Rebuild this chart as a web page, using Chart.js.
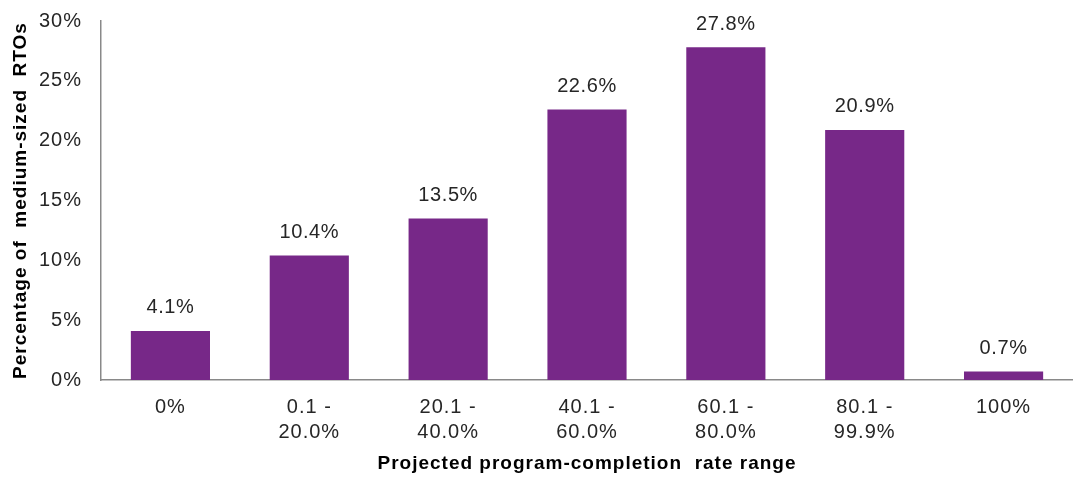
<!DOCTYPE html>
<html>
<head>
<meta charset="utf-8">
<script src="https://cdn.jsdelivr.net/npm/chart.js@4.4.1/dist/chart.umd.min.js"></script>
<style>
html,body{margin:0;padding:0;background:#fff;}
#wrap{width:1073px;height:477px;position:relative;}
</style>
</head>
<body>
<div id="wrap"><canvas id="c"></canvas></div>
<script>
const categories = [["0%"], ["0.1 -", "20.0%"], ["20.1 -", "40.0%"], ["40.1 -", "60.0%"], ["60.1 -", "80.0%"], ["80.1 -", "99.9%"], ["100%"]];
const values = [4.1, 10.4, 13.5, 22.6, 27.8, 20.9, 0.7];
const yTicks = [0, 5, 10, 15, 20, 25, 30];

const FONT = "'Liberation Sans', Arial, sans-serif";
const barColor = '#772888';
const SPACING = '1px';

const spacingPlugin = {
  id: 'spacing',
  beforeInit(chart) { chart.ctx.letterSpacing = SPACING; },
  beforeLayout(chart) { chart.ctx.letterSpacing = SPACING; },
  beforeDraw(chart) { chart.ctx.letterSpacing = SPACING; }
};

const labelPlugin = {
  id: 'barLabels',
  afterDatasetsDraw(chart) {
    const ctx = chart.ctx;
    const meta = chart.getDatasetMeta(0);
    ctx.save();
    ctx.letterSpacing = '0.6px';
    ctx.font = '20px ' + FONT;
    ctx.fillStyle = '#262626';
    ctx.textAlign = 'center';
    ctx.textBaseline = 'middle';
    meta.data.forEach((bar, i) => {
      ctx.fillText(values[i].toFixed(1) + '%', bar.x, bar.y - 23);
    });
    ctx.restore();
  }
};

new Chart(document.getElementById('c'), {
  type: 'bar',
  data: {
    labels: categories,
    datasets: [{
      data: values,
      backgroundColor: barColor,
      borderWidth: 0,
      categoryPercentage: 1.0,
      barPercentage: 0.57
    }]
  },
  options: {
    responsive: true,
    maintainAspectRatio: false,
    animation: false,
    devicePixelRatio: 1,
    layout: { padding: { top: 21, right: 0, bottom: 0, left: 0 } },
    plugins: { legend: { display: false }, tooltip: { enabled: false } },
    scales: {
      x: {
        grid: { display: false, drawTicks: false },
        border: { display: true, color: '#898989', width: 1.5 },
        ticks: { color: '#262626', font: { family: FONT, size: 20, lineHeight: 1.25 }, padding: 15, maxRotation: 0, autoSkip: false },
        title: { display: true, text: 'Projected program-completion  rate range', color: '#000', font: { family: FONT, size: 19, weight: 'bold' }, padding: { top: 8, bottom: 2 } },
        afterFit(s) { s.height = 97; s.paddingLeft = 0; s.paddingRight = 0; }
      },
      y: {
        min: 0, max: 30,
        afterBuildTicks(s) { s.ticks = yTicks.map(v => ({ value: v })); },
        grid: { display: false, drawTicks: false },
        border: { display: true, color: '#898989', width: 1.5 },
        ticks: { color: '#262626', font: { family: FONT, size: 20 }, padding: 19, callback: v => v + '%' },
        title: { display: true, text: 'Percentage of  medium-sized  RTOs', color: '#000', font: { family: FONT, size: 19, weight: 'bold' }, padding: { top: 9, bottom: 4 } },
        afterFit(s) { s.width = 101; s.paddingTop = 0; s.paddingBottom = 0; }
      }
    }
  },
  plugins: [spacingPlugin, labelPlugin]
});
</script>
</body>
</html>
